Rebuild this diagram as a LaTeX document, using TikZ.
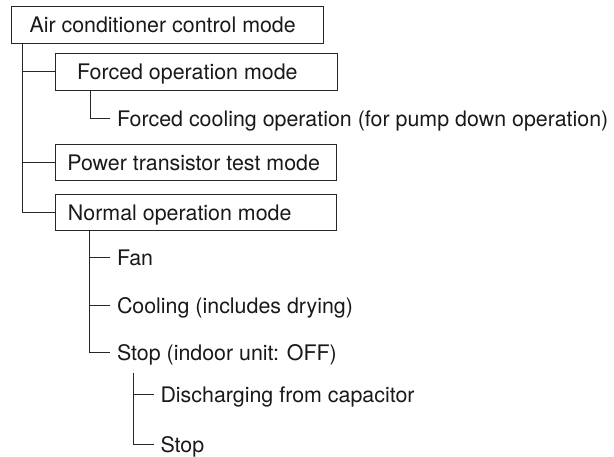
\documentclass[tikz,border=0pt]{standalone}
\usepackage{fontspec}
\setmainfont{TeX Gyre Heros}
\begin{document}
\begin{tikzpicture}[x=1pt,y=1pt,
  line width=1pt,
  every node/.style={font=\fontsize{21.4pt}{25pt}\selectfont, text=black!90},
  modebox/.style={draw=black!85, inner sep=0pt, anchor=north west,
    text height=15.4pt, text depth=0pt},
  leaf/.style={inner xsep=6.5pt, inner ysep=0pt, anchor=west,
    text height=15.4pt, text depth=0pt},
  conn/.style={draw=black!85, line width=1pt}]
\useasboundingbox (0,0) rectangle (614,-457);
\newcommand\mymodebox[3]{\makebox[#1pt][l]{\hspace*{#2pt}#3}}
% boxes
\node[modebox, minimum height=37pt] (b1) at (11,-6)
  {\mymodebox{312}{18}{Air conditioner control mode}};
\node[modebox, minimum height=37pt] (b2) at (55,-53)
  {\mymodebox{282}{21.5}{Forced operation mode}};
\node[modebox, minimum height=36pt] (b3) at (55,-144)
  {\mymodebox{281}{11.8}{Power transistor test mode}};
\node[modebox, minimum height=36pt] (b4) at (55,-194)
  {\mymodebox{281}{12.5}{Normal operation mode}};
% leaves
\node[leaf] (fc) at (110,-119) {Forced cooling operation (for pump down operation)};
\node[leaf] (fan) at (110,-258) {Fan};
\node[leaf] (cool) at (110,-306) {Cooling (includes drying)};
\node[leaf] (stop) at (110,-352.5) {Stop (indoor unit: OFF)};
\node[leaf] (dis) at (153.5,-395) {Discharging from capacitor};
\node[leaf] (stop2) at (153.5,-445) {Stop};
% connectors
\coordinate (t0) at ([xshift=11pt]b1.south west);
\draw[conn] (t0) |- (b2.west);
\draw[conn] (t0) |- (b3.west);
\draw[conn] (t0) |- (b4.west);
\coordinate (t1) at ([xshift=35pt]b2.south west);
\draw[conn] (t1) |- (fc.west);
\coordinate (t2) at ([xshift=34pt]b4.south west);
\draw[conn] (t2) |- (fan.west);
\draw[conn] (t2) |- (cool.west);
\draw[conn] (t2) |- (stop.west);
\coordinate (t3) at (133.5,-373);
\draw[conn] (t3) |- (dis.west);
\draw[conn] (t3) |- (stop2.west);
\end{tikzpicture}
\end{document}
